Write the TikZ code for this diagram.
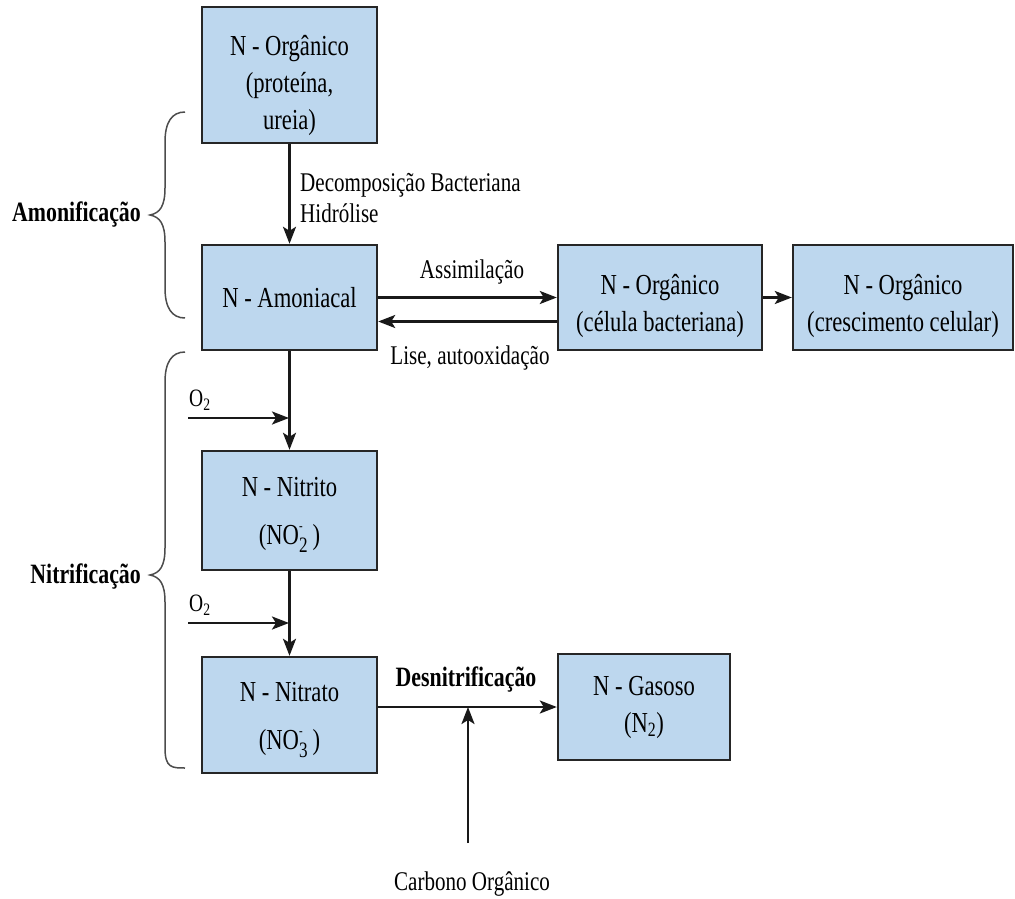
\documentclass[tikz,border=0pt]{standalone}
\usepackage{fontspec}
\setmainfont{Liberation Serif}[FakeStretch=0.78]
\usetikzlibrary{arrows.meta,calc}
\definecolor{boxblue}{RGB}{189,215,238}
\newcommand{\tstrut}[1]{\rule{0pt}{#1}}
\newcommand{\ion}[1]{\makebox[0pt][l]{\raisebox{14pt}{\fontsize{14}{14}\selectfont -}}\raisebox{-8pt}{\fontsize{22}{22}\selectfont #1}\hspace{5pt}}
\tikzset{
  box/.style={draw=black!85, line width=2.4pt, fill=boxblue, align=center, inner sep=0pt, font=\fontsize{29}{37}\selectfont},
  arr/.style={line width=2.5pt, draw=black!90, -{Stealth[length=17pt,width=13pt,inset=4pt]}},
  lbl/.style={font=\fontsize{27}{31}\selectfont, inner sep=0pt},
  blbl/.style={font=\bfseries\fontsize{28}{32}\selectfont, inner sep=0pt},
  brace/.style={line width=1.5pt, draw=black!70},
}
\begin{document}
\begin{tikzpicture}[x=1pt,y=-1pt]
\useasboundingbox (0,0) rectangle (1015,899);
% boxes
\node[box, minimum width=175pt, minimum height=136pt] (org1) at (289.5,75) {\tstrut{42pt}N - Orgânico\\(proteína,\\ureia)};
\node[box, minimum width=175pt, minimum height=105pt] (amon) at (289.5,297.5) {N - Amoniacal};
\node[box, minimum width=204pt, minimum height=105pt] (cel) at (660,297.5) {\tstrut{38pt}N - Orgânico\\(célula bacteriana)};
\node[box, minimum width=220pt, minimum height=105pt] (cresc) at (903,297.5) {\tstrut{38pt}N - Orgânico\\(crescimento celular)};
\node[box, minimum width=175pt, minimum height=119pt, font=\fontsize{29}{48}\selectfont] (nitri) at (289.5,510.5) {\tstrut{28pt}N - Nitrito\\(NO\ion{2})};
\node[box, minimum width=175pt, minimum height=116pt, font=\fontsize{29}{48}\selectfont] (nitra) at (289.5,715) {\tstrut{30pt}N - Nitrato\\(NO\ion{3})};
\node[box, minimum width=172pt, minimum height=106pt] (gas) at (644,707) {N - Gasoso\\(N\textsubscript{2})};
% coordinates
\coordinate (o1s) at (188,418);
\coordinate (o1j) at (289,418);
\coordinate (o2s) at (188,623);
\coordinate (o2j) at (289,623);
\coordinate (cs) at (468,843);
\coordinate (cj) at (468,707);
% connectors
\draw[arr] (org1.south) -- (amon.north);
\draw[arr] (amon.east) -- (cel.west);
\draw[arr] ($(cel.west)+(0,24)$) -- ($(amon.east)+(0,24)$);
\draw[arr] (cel.east) -- (cresc.west);
\draw[arr] (amon.south) -- (nitri.north);
\draw[arr] (o1s) -- (o1j);
\draw[arr] (nitri.south) -- (nitra.north);
\draw[arr] (o2s) -- (o2j);
\draw[arr] (nitra.east |- gas.west) -- (gas.west);
\draw[arr] (cs) -- (cj);
% labels
\node[lbl, anchor=west, align=left, font=\fontsize{27}{31}\selectfont] (dec) at (300,198) {Decomposição Bacteriana\\Hidrólise};
\node[lbl] (ass) at (472,272) {Assimilação};
\node[lbl] (lis) at (470,358) {Lise, autooxidação};
\node[lbl, anchor=west, font=\fontsize{25}{30}\selectfont] (o2a) at (189,400) {O\textsubscript{2}};
\node[lbl, anchor=west, font=\fontsize{25}{30}\selectfont] (o2b) at (189,605) {O\textsubscript{2}};
\node[blbl] (desn) at (466,680) {Desnitrificação};
\node[lbl] (carb) at (472,884) {Carbono Orgânico};
\node[blbl, anchor=east] (amonif) at (141,215) {Amonificação};
\node[blbl, anchor=east] (nitrif) at (141,577) {Nitrificação};
% braces
\draw[brace] (185,112) .. controls (172,112) and (165,122) .. (165,142) -- (165,188)
  .. controls (165,206) and (160,213) .. (150,215)
  .. controls (160,217) and (165,224) .. (165,242) -- (165,288)
  .. controls (165,308) and (172,318) .. (185,318);
\draw[brace] (185,352) .. controls (172,352) and (165,362) .. (165,382) -- (165,548)
  .. controls (165,566) and (160,573) .. (150,575)
  .. controls (160,577) and (165,584) .. (165,602) -- (165,748)
  .. controls (165,768) and (172,768) .. (185,768);
\end{tikzpicture}
\end{document}
